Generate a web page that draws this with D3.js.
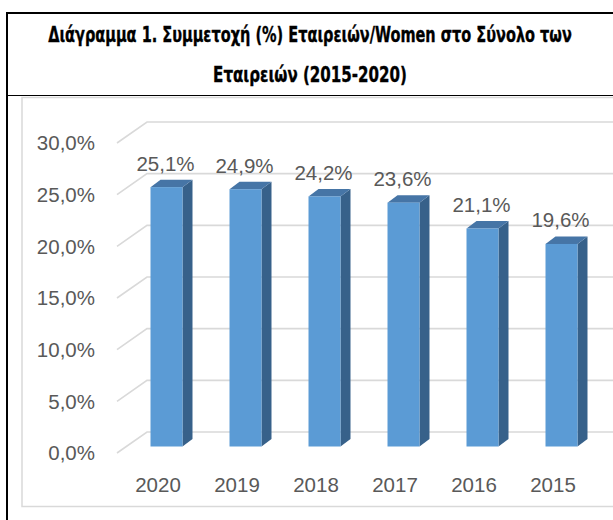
<!DOCTYPE html>
<html>
<head>
<meta charset="UTF-8">
<script src="https://d3js.org/d3.v7.min.js"></script>
<style>
  body { margin: 0; background: #fff; }
  .title { font-family: "Liberation Sans Narrow", "DejaVu Sans Condensed", "Liberation Sans", Arial, sans-serif; font-weight: bold; font-size: 22px; fill: #000; stroke: #000; stroke-width: 0.35; }
  .lbl { font-family: "Liberation Sans", Arial, sans-serif; font-size: 20.5px; fill: #595959; }
  .grid { fill: none; stroke: #d9d9d9; stroke-width: 1.6; }
</style>
</head>
<body>
<svg id="chart" width="613" height="520"></svg>
<script>
// data
var years = ["2020", "2019", "2018", "2017", "2016", "2015"];
var shares = [25.1, 24.9, 24.2, 23.6, 21.1, 19.6];
var yTicks = [0, 5, 10, 15, 20, 25, 30];
var titleLines = ["Διάγραμμα 1. Συμμετοχή (%) Εταιρειών/Women στο Σύνολο των", "Εταιρειών (2015-2020)"];

var svg = d3.select("#chart");

// outer frame + title box
svg.append("line").attr("x1", 6).attr("x2", 613).attr("y1", 13).attr("y2", 13)
  .attr("stroke", "#000").attr("stroke-width", 2);
svg.append("line").attr("x1", 7).attr("x2", 7).attr("y1", 12).attr("y2", 520)
  .attr("stroke", "#000").attr("stroke-width", 2);
svg.append("line").attr("x1", 6).attr("x2", 613).attr("y1", 95.5).attr("y2", 95.5)
  .attr("stroke", "#000").attr("stroke-width", 1.2);

// title: shrink font to fit the width, then stretch vertically back
var titleW = [524, 194];
var titleY = [42, 82];
titleLines.forEach(function(t, i) {
  var g = svg.append("g");
  var txt = g.append("text").attr("class", "title").attr("text-anchor", "middle").text(t);
  var base = 22;
  var w = txt.node().getComputedTextLength();
  var size = base * titleW[i] / w;
  txt.style("font-size", size + "px").style("stroke-width", 0.35 * size / base);
  g.attr("transform", "translate(310," + titleY[i] + ") scale(1," + (base / size) + ")");
});

// chart area
svg.append("rect").attr("x", 22).attr("y", 97.5).attr("width", 620).attr("height", 409)
  .attr("fill", "#fff").attr("stroke", "#d9d9d9").attr("stroke-width", 1.5);

// 3d geometry: depth of floor and where the bars sit in it
var depth = {dx: 30, dy: -21};
var front = {dx: 8.5, dy: -6.5};
var side = {dx: 10, dy: -7.5};

var y = d3.scaleLinear().domain([0, 30]).range([453, 143]);
var x = d3.scaleBand().domain(years).range([118.5, 592.5]);
var barW = x.bandwidth() * 0.405;
var wallX = 117;

// gridlines: diagonal on the side wall, then along the back wall
svg.selectAll(".grid").data(yTicks).enter().append("path")
  .attr("class", "grid")
  .attr("d", d => "M" + wallX + "," + y(d) + "L" + (wallX + depth.dx) + "," + (y(d) + depth.dy) + "L640," + (y(d) + depth.dy));

svg.selectAll(".ytick").data(yTicks).enter().append("text")
  .attr("class", "lbl ytick")
  .attr("x", 95)
  .attr("y", d => y(d))
  .attr("dy", "0.36em")
  .attr("text-anchor", "end")
  .text(d => d.toFixed(1).replace(".", ",") + "%");

var data = years.map((yr, i) => ({year: yr, v: shares[i]}));

var bars = svg.selectAll(".bar").data(data).enter().append("g").attr("class", "bar");

function geo(d) {
  var cx = x(d.year) + x.bandwidth() / 2 + front.dx;
  return {l: cx - barW / 2, r: cx + barW / 2, t: y(d.v) + front.dy, b: y(0) + front.dy};
}

bars.append("polygon")
  .attr("fill", "#37618a")
  .attr("points", d => { var g = geo(d);
    return [[g.r, g.t], [g.r + side.dx, g.t + side.dy], [g.r + side.dx, g.b + side.dy], [g.r, g.b]].join(" "); });

bars.append("polygon")
  .attr("fill", "#4675a6")
  .attr("points", d => { var g = geo(d);
    return [[g.l, g.t], [g.l + side.dx, g.t + side.dy], [g.r + side.dx, g.t + side.dy], [g.r, g.t]].join(" "); });

bars.append("rect")
  .attr("fill", "#5b9bd5")
  .attr("x", d => geo(d).l)
  .attr("y", d => geo(d).t)
  .attr("width", barW)
  .attr("height", d => geo(d).b - geo(d).t);

bars.append("text")
  .attr("class", "lbl")
  .attr("text-anchor", "middle")
  .attr("x", d => x(d.year) + x.bandwidth() / 2 + 7.5)
  .attr("y", d => y(d.v) + front.dy + side.dy - 9)
  .text(d => d.v.toFixed(1).replace(".", ",") + "%");

svg.selectAll(".xtick").data(years).enter().append("text")
  .attr("class", "lbl xtick")
  .attr("text-anchor", "middle")
  .attr("x", d => x(d) + x.bandwidth() / 2)
  .attr("y", 492)
  .text(d => d);
</script>
</body>
</html>
